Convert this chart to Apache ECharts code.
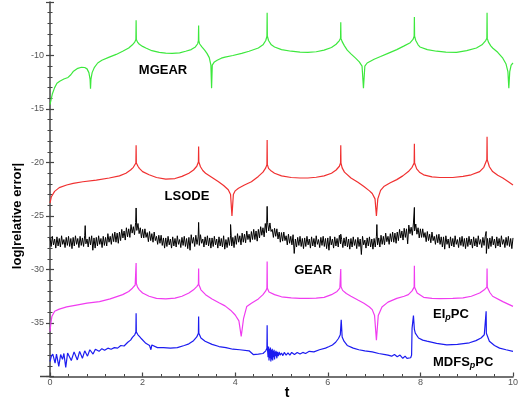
<!DOCTYPE html>
<html><head><meta charset="utf-8">
<script src="https://cdn.jsdelivr.net/npm/echarts@6/dist/echarts.min.js"></script>
<style>html,body{margin:0;padding:0;background:#fff}#c{width:521px;height:401px}</style>
</head><body><div id="c"></div>
<script>
// ---- data: [t, log|relative error|] ----
const mgear = [[0,-14.6],[0.02,-14.2],[0.05,-13.6],[0.1,-13.0],[0.15,-12.6],[0.21,-12.4],[0.3,-12.2],[0.39,-12.05],[0.45,-11.8],[0.5,-11.5],[0.6,-11.2],[0.68,-11.1],[0.75,-11.12],[0.8,-11.25],[0.84,-11.6],[0.865,-12.2],[0.875,-13.1],[0.885,-12.2],[0.91,-11.6],[0.96,-11.1],[1.03,-10.7],[1.12,-10.45],[1.28,-10.15],[1.43,-9.9],[1.57,-9.6],[1.7,-9.3],[1.78,-9.0],[1.83,-8.75],[1.855,-8.5],[1.86,-6.7],[1.865,-8.5],[1.89,-8.75],[1.93,-8.95],[2.0,-9.15],[2.07,-9.3],[2.2,-9.55],[2.36,-9.7],[2.5,-9.78],[2.64,-9.8],[2.8,-9.75],[2.93,-9.6],[3.05,-9.45],[3.14,-9.2],[3.19,-8.9],[3.205,-8.6],[3.21,-7.2],[3.215,-8.6],[3.23,-8.9],[3.28,-9.2],[3.34,-9.5],[3.39,-9.8],[3.44,-10.2],[3.475,-10.9],[3.49,-13.05],[3.505,-10.9],[3.55,-10.6],[3.61,-10.45],[3.7,-10.25],[3.78,-10.15],[3.95,-10.0],[4.14,-9.8],[4.3,-9.6],[4.5,-9.3],[4.6,-9.0],[4.66,-8.6],[4.685,-8.2],[4.69,-6.0],[4.695,-8.2],[4.72,-8.6],[4.78,-9.0],[4.85,-9.2],[5.0,-9.45],[5.21,-9.6],[5.4,-9.68],[5.57,-9.7],[5.75,-9.65],[5.92,-9.5],[6.08,-9.25],[6.18,-8.95],[6.25,-8.6],[6.275,-8.4],[6.28,-6.9],[6.285,-8.4],[6.31,-8.7],[6.36,-9.1],[6.42,-9.5],[6.5,-9.85],[6.6,-10.25],[6.68,-10.6],[6.74,-11.0],[6.77,-13.05],[6.8,-11.0],[6.85,-10.7],[6.89,-10.55],[7.0,-10.35],[7.14,-10.1],[7.3,-9.8],[7.49,-9.45],[7.65,-9.1],[7.78,-8.8],[7.84,-8.5],[7.865,-8.2],[7.87,-6.4],[7.875,-8.2],[7.9,-8.6],[7.95,-9.0],[7.99,-9.2],[8.15,-9.45],[8.35,-9.6],[8.55,-9.68],[8.78,-9.7],[9.0,-9.55],[9.21,-9.3],[9.33,-9.0],[9.41,-8.6],[9.435,-8.4],[9.44,-6.0],[9.445,-8.4],[9.47,-8.75],[9.52,-9.1],[9.56,-9.3],[9.67,-9.7],[9.78,-10.25],[9.85,-10.8],[9.89,-11.5],[9.91,-13.05],[9.93,-11.5],[9.96,-10.9],[10.0,-10.7]];

const lsode = [[0,-23.8],[0.03,-23.2],[0.1,-22.7],[0.2,-22.35],[0.36,-22.1],[0.5,-21.95],[0.71,-21.8],[1.0,-21.65],[1.28,-21.45],[1.5,-21.25],[1.64,-21.0],[1.74,-20.7],[1.8,-20.45],[1.855,-20.05],[1.86,-18.4],[1.865,-20.05],[1.9,-20.35],[1.93,-20.55],[2.0,-20.85],[2.14,-21.15],[2.3,-21.4],[2.5,-21.55],[2.7,-21.5],[2.85,-21.3],[3.0,-21.0],[3.1,-20.7],[3.17,-20.35],[3.205,-19.95],[3.21,-18.5],[3.215,-19.95],[3.25,-20.4],[3.3,-20.75],[3.36,-21.0],[3.5,-21.4],[3.64,-21.8],[3.75,-22.15],[3.85,-22.55],[3.9,-23.0],[3.93,-25.0],[3.96,-23.0],[4.0,-22.65],[4.07,-22.4],[4.2,-22.1],[4.35,-21.8],[4.5,-21.3],[4.6,-20.9],[4.66,-20.5],[4.685,-20.2],[4.69,-17.9],[4.695,-20.2],[4.72,-20.55],[4.78,-20.8],[4.85,-21.0],[5.0,-21.25],[5.21,-21.4],[5.4,-21.45],[5.57,-21.45],[5.75,-21.38],[5.92,-21.25],[6.08,-21.0],[6.18,-20.7],[6.25,-20.35],[6.275,-20.05],[6.28,-18.4],[6.285,-20.05],[6.31,-20.5],[6.36,-20.9],[6.5,-21.45],[6.65,-21.85],[6.78,-22.25],[6.9,-22.65],[6.96,-22.9],[7.02,-23.4],[7.05,-25.0],[7.08,-23.4],[7.14,-22.6],[7.21,-22.25],[7.35,-21.9],[7.49,-21.6],[7.62,-21.25],[7.74,-20.85],[7.82,-20.45],[7.865,-20.05],[7.87,-18.25],[7.875,-20.05],[7.92,-20.6],[7.98,-20.9],[8.07,-21.15],[8.25,-21.35],[8.42,-21.4],[8.7,-21.4],[8.92,-21.3],[9.1,-21.15],[9.28,-20.85],[9.37,-20.45],[9.435,-19.75],[9.44,-17.6],[9.445,-19.75],[9.49,-20.4],[9.56,-20.85],[9.67,-21.2],[9.78,-21.45],[9.9,-21.8],[10.0,-22.1]];

// GEAR noise band: upper-side values read every 0.05 in t (from t=0),
// lower-side values read at the mid points (t=0.025, 0.075, ...), and spikes
const gearStep = 0.05;
const gearUpper = [-27.05,-26.9,-27.15,-26.95,-27.1,-26.85,-27.2,-27.0,-26.9,-27.1,
-27.0,-26.85,-27.1,-26.9,-27.05,-26.8,-27.15,-26.95,-26.85,-27.05,
-27.0,-26.85,-27.1,-26.9,-27.0,-26.65,-26.9,-26.65,-26.5,-26.6,
-26.5,-26.25,-26.4,-26.1,-26.2,-25.8,-26.0,-25.6,-25.7,-26.1,
-26.25,-26.2,-26.55,-26.45,-26.65,-26.5,-26.9,-26.8,-26.8,-27.05,
-27.05,-26.9,-27.15,-26.95,-27.1,-26.85,-27.2,-27.0,-26.9,-27.1,
-27.0,-26.75,-27.0,-26.8,-26.95,-26.75,-27.15,-26.95,-26.85,-27.05,
-27.05,-26.9,-27.15,-26.95,-27.1,-26.85,-27.2,-27.0,-26.85,-27.0,
-26.85,-26.65,-26.85,-26.6,-26.7,-26.4,-26.7,-26.45,-26.25,-26.4,
-26.25,-26.0,-26.1,-25.7,-25.6,-25.65,-26.25,-26.15,-26.2,-26.5,
-26.55,-26.5,-26.85,-26.7,-26.9,-26.75,-27.15,-27.0,-26.9,-27.1,
-27.05,-26.9,-27.15,-26.95,-27.1,-26.85,-27.2,-27.0,-26.9,-27.1,
-27.05,-26.9,-27.15,-26.95,-27.1,-26.8,-27.2,-27.05,-26.95,-27.15,
-27.1,-26.95,-27.2,-27.0,-27.15,-26.9,-27.25,-27.05,-26.95,-27.15,
-27.1,-26.9,-27.05,-26.8,-26.9,-26.6,-26.9,-26.65,-26.5,-26.6,
-26.5,-26.25,-26.4,-26.15,-26.2,-25.85,-26.05,-25.65,-25.75,-26.1,
-26.2,-26.2,-26.55,-26.45,-26.7,-26.5,-26.9,-26.75,-26.7,-26.95,
-26.95,-26.85,-27.15,-26.95,-27.1,-26.85,-27.2,-27.0,-26.9,-27.1,
-27.05,-26.9,-27.15,-26.95,-27.1,-26.85,-27.2,-27.0,-26.9,-27.1,
-27.05,-26.9,-27.15,-26.95,-27.1,-26.85,-27.2,-27.0,-26.9,-27.1,
-27.05];
const gearLower = [-27.85,-27.7,-28.0,-27.8,-27.9,-27.65,-27.95,-27.75,-27.85,-28.05,
-27.8,-27.65,-27.95,-27.75,-27.85,-27.6,-27.9,-27.7,-28.2,-28.0,
-27.8,-27.65,-27.95,-27.75,-27.8,-27.45,-27.65,-27.4,-27.45,-27.55,
-27.3,-27.05,-27.25,-26.95,-27.0,-26.6,-26.75,-26.35,-26.65,-27.05,
-27.05,-27.0,-27.4,-27.3,-27.45,-27.3,-27.65,-27.55,-27.75,-28.0,
-27.85,-27.7,-28.0,-27.8,-27.9,-27.65,-27.95,-27.75,-27.85,-28.05,
-28.2,-27.55,-27.85,-27.65,-27.75,-27.55,-27.9,-27.7,-27.8,-28.0,
-27.85,-27.7,-28.0,-27.8,-27.9,-28.1,-27.95,-27.75,-27.8,-27.95,
-27.65,-27.45,-27.7,-27.45,-27.5,-27.2,-27.45,-27.2,-27.2,-27.35,
-27.05,-26.8,-26.95,-26.55,-26.4,-26.45,-27.0,-26.9,-27.15,-27.45,
-27.35,-27.3,-27.7,-27.55,-27.7,-28.5,-27.9,-27.75,-27.85,-28.05,
-27.85,-27.7,-28.0,-27.8,-27.9,-27.65,-27.95,-27.75,-27.85,-28.05,
-28.2,-27.7,-28.0,-27.8,-27.9,-27.6,-27.95,-27.8,-27.9,-28.1,
-27.9,-27.75,-28.05,-27.85,-28.6,-27.7,-28.0,-27.8,-27.9,-28.1,
-27.9,-27.7,-27.9,-27.65,-27.7,-27.4,-27.65,-27.4,-27.45,-27.55,
-27.3,-27.05,-27.25,-27.0,-27.6,-26.65,-26.8,-26.4,-26.7,-27.05,
-27.0,-27.0,-27.4,-27.3,-27.5,-27.3,-27.65,-27.5,-27.65,-27.9,
-28.1,-27.65,-28.0,-27.8,-27.9,-27.65,-27.95,-27.75,-27.85,-28.05,
-27.85,-27.7,-28.0,-27.8,-27.9,-27.65,-27.95,-27.75,-28.5,-28.05,
-27.85,-27.7,-28.0,-27.8,-27.9,-27.65,-27.95,-27.75,-27.85,-28.05];
const gearSpikes = [[0.76,-25.9],[1.86,-24.25],[3.21,-25.6],[3.9,-25.8],[4.69,-24.1],[6.28,-26.7],[7.06,-25.8],[7.87,-24.2],[9.42,-26.45]];

const eipc = [[0,-35.8],[0.02,-35.0],[0.04,-34.4],[0.1,-33.9],[0.2,-33.7],[0.36,-33.5],[0.6,-33.3],[0.8,-33.15],[1.07,-33.0],[1.3,-32.75],[1.57,-32.35],[1.7,-32.05],[1.78,-31.75],[1.84,-31.45],[1.855,-31.3],[1.86,-29.4],[1.865,-31.3],[1.89,-31.65],[1.93,-31.9],[2.0,-32.2],[2.14,-32.5],[2.3,-32.7],[2.5,-32.75],[2.7,-32.68],[2.85,-32.5],[3.0,-32.2],[3.1,-31.9],[3.17,-31.6],[3.205,-31.4],[3.21,-29.9],[3.215,-31.4],[3.26,-31.9],[3.36,-32.35],[3.5,-32.75],[3.65,-33.1],[3.78,-33.4],[3.9,-33.8],[4.0,-34.25],[4.08,-34.8],[4.13,-36.25],[4.18,-34.6],[4.25,-33.45],[4.35,-33.15],[4.5,-32.75],[4.6,-32.35],[4.66,-32.0],[4.685,-31.75],[4.69,-29.25],[4.695,-31.75],[4.73,-32.1],[4.85,-32.35],[5.0,-32.55],[5.21,-32.65],[5.4,-32.7],[5.57,-32.7],[5.75,-32.68],[5.92,-32.6],[6.08,-32.35],[6.2,-32.05],[6.26,-31.75],[6.275,-31.6],[6.28,-29.95],[6.285,-31.6],[6.32,-31.95],[6.4,-32.25],[6.5,-32.5],[6.65,-32.85],[6.78,-33.15],[6.9,-33.5],[6.96,-33.75],[7.01,-34.3],[7.05,-36.6],[7.09,-34.3],[7.17,-33.5],[7.3,-33.05],[7.49,-32.7],[7.65,-32.5],[7.74,-32.35],[7.82,-32.0],[7.865,-31.65],[7.87,-29.65],[7.875,-31.65],[7.93,-32.2],[8.07,-32.6],[8.25,-32.7],[8.42,-32.72],[8.7,-32.7],[8.92,-32.65],[9.1,-32.5],[9.28,-32.2],[9.38,-31.9],[9.435,-31.65],[9.44,-29.9],[9.445,-31.65],[9.5,-32.15],[9.56,-32.5],[9.78,-33.0],[10.0,-33.45]];

const mdfs = [[0,-38.6],[0.03,-38.1],[0.06,-37.9],[0.11,-38.75],[0.14,-37.9],[0.19,-39.05],[0.23,-37.95],[0.27,-38.4],[0.3,-37.85],[0.34,-39.15],[0.38,-37.8],[0.46,-38.5],[0.52,-37.7],[0.59,-38.45],[0.64,-37.65],[0.7,-38.3],[0.75,-37.6],[0.81,-38.1],[0.86,-37.5],[0.93,-37.9],[0.98,-37.45],[1.06,-37.65],[1.12,-37.4],[1.18,-37.55],[1.25,-37.35],[1.32,-37.45],[1.39,-37.3],[1.46,-37.35],[1.53,-37.1],[1.6,-37.15],[1.68,-36.8],[1.74,-36.6],[1.78,-36.35],[1.83,-36.1],[1.855,-35.85],[1.86,-34.1],[1.865,-35.85],[1.9,-36.1],[1.96,-36.4],[2.07,-36.9],[2.15,-37.1],[2.18,-37.5],[2.2,-37.05],[2.32,-37.3],[2.45,-37.3],[2.6,-37.35],[2.75,-37.3],[2.9,-37.1],[3.0,-36.95],[3.1,-36.65],[3.17,-36.3],[3.205,-35.95],[3.21,-34.4],[3.215,-35.95],[3.26,-36.4],[3.35,-36.7],[3.5,-37.0],[3.65,-37.2],[3.8,-37.3],[3.95,-37.45],[4.1,-37.5],[4.3,-37.6],[4.39,-37.95],[4.5,-37.9],[4.6,-37.85],[4.66,-37.6],[4.685,-37.35],[4.69,-35.2],[4.695,-37.3],[4.71,-38.2],[4.72,-37.2],[4.73,-38.5],[4.74,-37.4],[4.75,-38.3],[4.76,-37.3],[4.77,-38.6],[4.78,-37.5],[4.79,-38.4],[4.8,-37.4],[4.81,-38.5],[4.82,-37.6],[4.83,-38.2],[4.84,-37.5],[4.85,-38.4],[4.86,-37.7],[4.87,-38.1],[4.88,-37.6],[4.9,-38.3],[4.91,-37.7],[4.93,-38.1],[4.95,-37.7],[4.97,-38.0],[5.0,-37.8],[5.03,-38.05],[5.06,-37.75],[5.1,-38.0],[5.14,-37.8],[5.18,-38.0],[5.22,-37.75],[5.28,-37.95],[5.34,-37.75],[5.4,-37.9],[5.46,-37.75],[5.52,-37.85],[5.6,-37.65],[5.7,-37.7],[5.82,-37.5],[5.95,-37.35],[6.03,-37.2],[6.1,-37.05],[6.17,-36.8],[6.23,-36.45],[6.27,-36.1],[6.29,-34.7],[6.31,-36.3],[6.35,-36.7],[6.42,-37.1],[6.55,-37.35],[6.67,-37.5],[6.8,-37.6],[6.96,-37.7],[7.1,-37.85],[7.24,-37.95],[7.3,-38.0],[7.38,-38.1],[7.44,-37.95],[7.5,-38.15],[7.56,-38.0],[7.62,-38.3],[7.67,-38.1],[7.71,-38.3],[7.75,-38.15],[7.79,-38.25],[7.81,-38.0],[7.82,-35.5],[7.85,-34.3],[7.87,-35.6],[7.89,-35.95],[7.96,-36.4],[8.05,-36.6],[8.14,-36.7],[8.35,-36.9],[8.57,-37.05],[8.8,-37.0],[9.06,-36.85],[9.2,-36.65],[9.31,-36.4],[9.38,-36.1],[9.415,-35.95],[9.42,-33.9],[9.425,-35.95],[9.49,-36.7],[9.6,-37.1],[9.71,-37.35],[9.85,-37.5],[10.0,-37.65]];

const seriesNames = ['MGEAR','LSODE','GEAR','EIpPC','MDFSpPC'];
const xTicks = {min:0, max:10, interval:2};
const yTicks = {min:-40, max:-5, interval:5};

// build GEAR table (sorted by t)
const gear = gearUpper.map((v,i)=>[+(i*gearStep).toFixed(3), v])
  .concat(gearLower.map((v,i)=>[+(gearStep/2 + i*gearStep).toFixed(3), v]))
  .concat(gearSpikes).sort((a,b)=>a[0]-b[0]);

const FONT = '"Liberation Sans", Arial, sans-serif';
const chart = echarts.init(document.getElementById('c'), null, {renderer:'canvas'});
const axisCol = '#444';
function line(name, data, color, w){
  return {name, type:'line', data, showSymbol:false, symbol:'none', smooth:false,
    lineStyle:{color, width:w||1.2}, animation:false, z:3};
}
chart.setOption({
  animation:false,
  backgroundColor:'#fff',
  grid:{left:50, right:4, top:2, bottom:24.5, containLabel:false},
  xAxis:{type:'value', min:xTicks.min, max:xTicks.max, interval:xTicks.interval,
    axisLine:{show:true, onZero:false, lineStyle:{color:axisCol, width:1.5}},
    axisTick:{show:true, inside:true, length:4, lineStyle:{color:axisCol, width:1.2}},
    minorTick:{show:true, splitNumber:5, length:2.5, lineStyle:{color:axisCol, width:1}},
    axisLabel:{fontSize:9, color:'#555', margin:2, fontFamily:FONT},
    splitLine:{show:false}},
  yAxis:[{type:'value', min:yTicks.min, max:yTicks.max, interval:yTicks.interval,
    axisLine:{show:true, onZero:false, lineStyle:{color:axisCol, width:1.5}},
    axisTick:{show:true, length:4, lineStyle:{color:axisCol, width:1.2}},
    minorTick:{show:true, splitNumber:5, length:2.5, lineStyle:{color:axisCol, width:1}},
    axisLabel:{fontSize:9, color:'#555', margin:6, fontFamily:FONT, showMinLabel:false, showMaxLabel:false},
    splitLine:{show:false}},
   {type:'value', min:yTicks.min, max:yTicks.max, interval:yTicks.interval, position:'left',
    axisLine:{show:false},
    axisTick:{show:true, inside:true, length:4, lineStyle:{color:axisCol, width:1.2}},
    minorTick:{show:true, splitNumber:5, length:2.5, lineStyle:{color:axisCol, width:1}},
    axisLabel:{show:false}, splitLine:{show:false}}],
  series:[
    line(seriesNames[0], mgear, '#3de83d'),
    line(seriesNames[1], lsode, '#f03030'),
    line(seriesNames[2], gear, '#000000', 1),
    line(seriesNames[3], eipc, '#f03cf0'),
    line(seriesNames[4], mdfs, '#1c1cf0')
  ],
  graphic:[
    {type:'text', x:163, y:70, style:{text:'MGEAR', font:'bold 13px '+FONT, fill:'#000', textAlign:'center', textVerticalAlign:'middle'}},
    {type:'text', x:187, y:196, style:{text:'LSODE', font:'bold 13px '+FONT, fill:'#000', textAlign:'center', textVerticalAlign:'middle'}},
    {type:'text', x:313, y:270, style:{text:'GEAR', font:'bold 13px '+FONT, fill:'#000', textAlign:'center', textVerticalAlign:'middle'}},
    {type:'text', x:433, y:314, style:{text:'{a|EI}{s|p}{a|PC}', textVerticalAlign:'middle',
      rich:{a:{font:'bold 13px '+FONT, fill:'#000', color:'#000'}, s:{font:'italic bold 9px '+FONT, color:'#000', fill:'#000', padding:[8,0,0,0]}}}},
    {type:'text', x:433, y:362, style:{text:'{a|MDFS}{s|p}{a|PC}', textVerticalAlign:'middle',
      rich:{a:{font:'bold 13px '+FONT, fill:'#000', color:'#000'}, s:{font:'italic bold 9px '+FONT, color:'#000', fill:'#000', padding:[8,0,0,0]}}}},
    {type:'text', x:287, y:393, style:{text:'t', font:'bold 14px '+FONT, fill:'#000', textAlign:'center', textVerticalAlign:'middle'}},
    {type:'text', x:17, y:216, rotation:Math.PI/2, style:{text:'log|relative error|', font:'bold 13px '+FONT, fill:'#000', textAlign:'center', textVerticalAlign:'middle'}},
    {type:'line', shape:{x1:40, y1:376.5, x2:50, y2:376.5}, style:{stroke:axisCol, lineWidth:1.5}}
  ]
});
</script></body></html>
